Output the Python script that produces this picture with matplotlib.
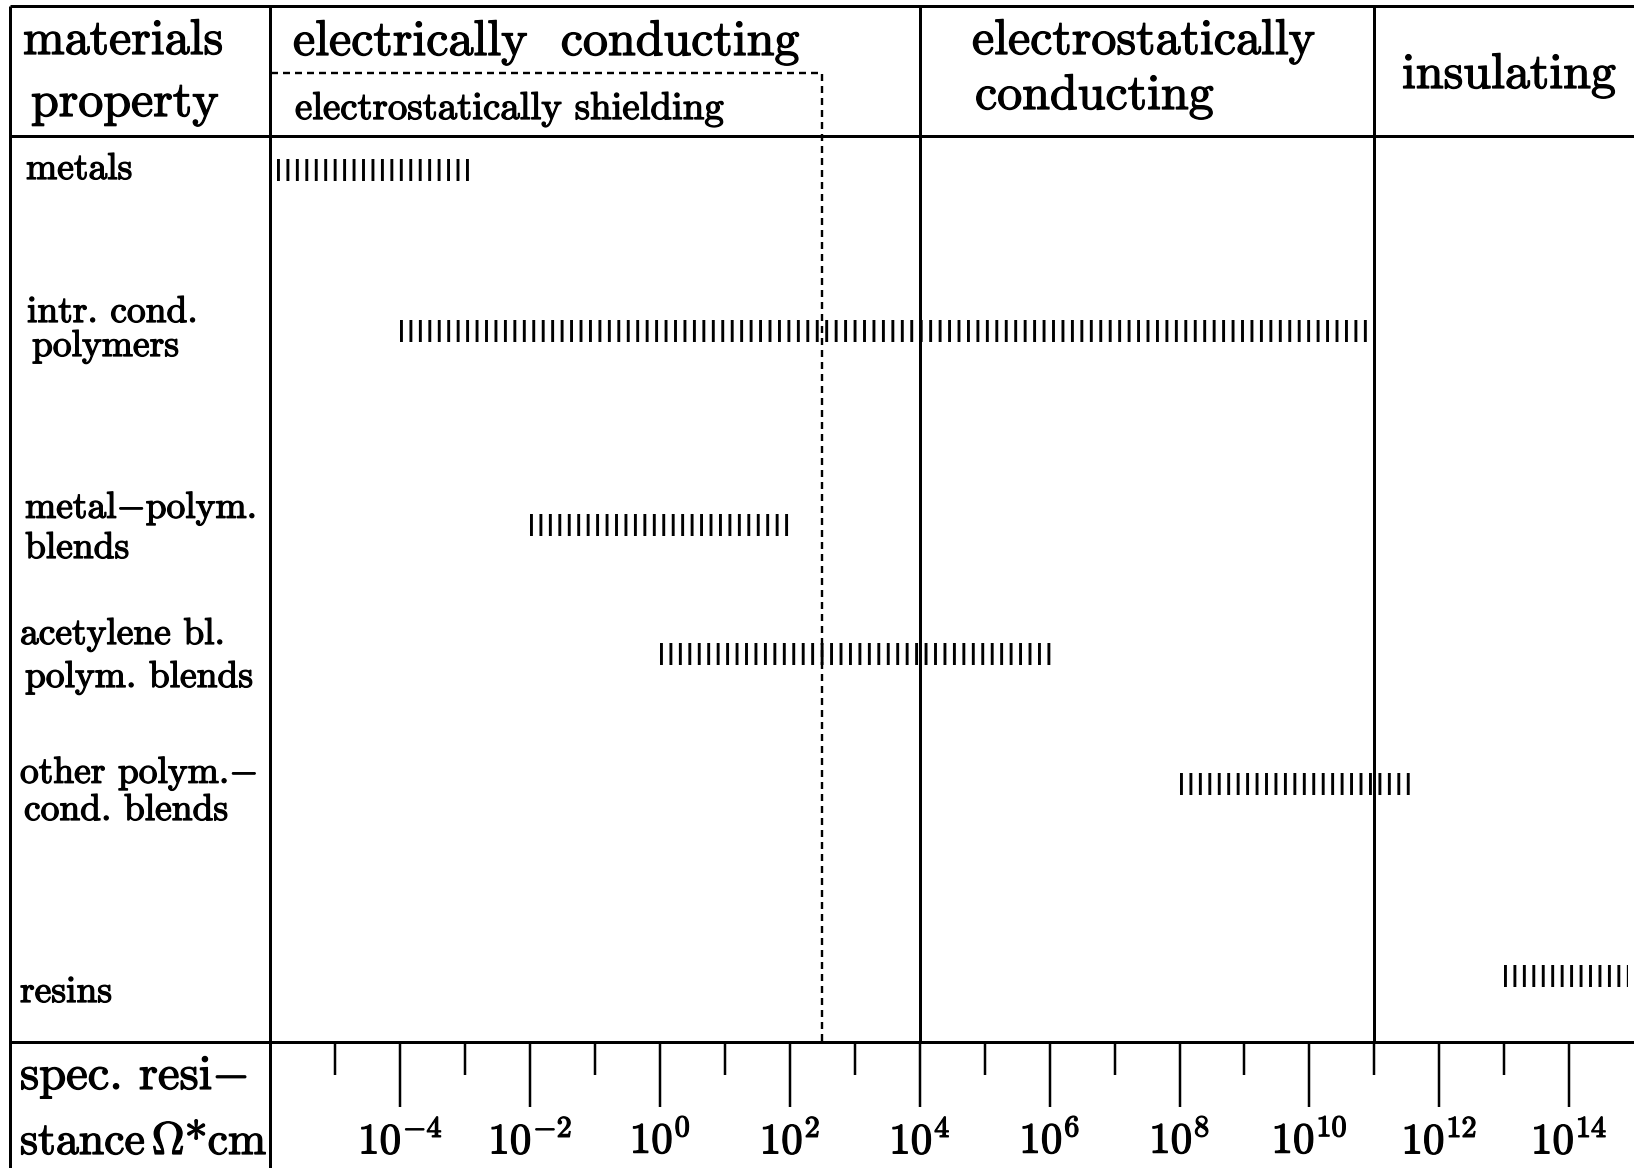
import matplotlib
matplotlib.use('Agg')
import matplotlib.pyplot as plt
import matplotlib.patheffects as pe

# materials (rows, top to bottom) and the range of log10(spec. resistance / Ohm*cm)
materials = ['metals', 'intr. cond. polymers', 'metal-polym. blends',
             'acetylene bl. polym. blends', 'other polym.-cond. blends', 'resins']
log_low = [-5.9, -4.0, -2.0, 0.0, 8.0, 13.0]
log_high = [-2.95, 10.9, 2.05, 6.05, 11.55, 14.9]

# class limits, log10(Ohm*cm)
shield_limit = 2.5      # end of "electrostatically shielding"
class_limits = [4, 11]  # conducting | electrostatically conducting | insulating
major_exp = list(range(-4, 15, 2))
minor_exp = list(range(-5, 14, 2))
x_range = (-6, 15)

# ---- layout (pixels, measured from top-left) ----
W, H = 1634, 1168
X0, XC = 10, 270.5
Y_TOP, Y_HEAD, Y_DASH, Y_AXIS = 6, 136, 72.7, 1042
row_y = [170, 331, 525, 654, 784, 976]
PT = 72 / 100.0  # points per pixel at dpi 100

# label lines: text, x, baseline y, size
header_lines = [
    ('materials', 23, 54, 36),
    ('property', 31, 116, 36),
    ('electrically  conducting', 293, 55, 36),
    ('electrostatically shielding', 295, 119, 28),
    ('electrostatically', 972, 54, 36),
    ('conducting', 975, 109, 36),
    ('insulating', 1402, 88, 36),
    ('spec. resi$-$', 20, 1089, 35),
    (r'stance$\,\Omega$*cm', 20, 1154, 33),
]
row_lines = [
    ('metals', 26, 179), ('intr. cond.', 27, 322), ('polymers', 32, 356),
    ('metal$-$polym.', 25, 518), ('blends', 25, 558),
    ('acetylene bl.', 20, 644), ('polym. blends', 25, 687),
    ('other polym.$-$', 20, 783), ('cond. blends', 24, 820),
    ('resins', 20, 1002),
]

plt.rcParams['mathtext.fontset'] = 'cm'
plt.rcParams['lines.scale_dashes'] = False
FONT = 'cmr10'
heavy = [pe.withStroke(linewidth=0.9, foreground='k')]

fig = plt.figure(figsize=(W / 100, H / 100), dpi=100)
fig.patch.set_facecolor('white')

# background axes in pixel coordinates for the table frame and labels
bg = fig.add_axes([0, 0, 1, 1])
bg.set_xlim(0, W)
bg.set_ylim(H, 0)
bg.axis('off')

lw_frame = 3 * PT
for yy in (Y_TOP, Y_HEAD, Y_AXIS):
    bg.plot([X0, W], [yy, yy], color='k', lw=lw_frame, solid_capstyle='butt')
for xx in (X0, XC):
    bg.plot([xx, xx], [Y_TOP, H], color='k', lw=lw_frame, solid_capstyle='butt')

for txt, x, y, fs in header_lines:
    bg.text(x, y, txt, fontsize=fs, family=FONT, ha='left', va='baseline',
            path_effects=heavy)
for txt, x, y in row_lines:
    bg.text(x, y, txt, fontsize=27, family=FONT, ha='left', va='baseline',
            path_effects=heavy)

# data axes: x = log10 of resistance, y = pixel row
ax = fig.add_axes([XC / W, (H - Y_AXIS) / H, (W - XC) / W, (Y_AXIS - Y_TOP) / H])
ax.set_xlim(*x_range)
ax.set_ylim(Y_AXIS, Y_TOP)
ax.patch.set_visible(False)
for s in ax.spines.values():
    s.set_visible(False)

for c in class_limits:
    ax.axvline(c, color='k', lw=lw_frame)

ax.plot([x_range[0], shield_limit, shield_limit], [Y_DASH, Y_DASH, Y_AXIS],
        color='k', lw=2.4 * PT, ls=(0, (7 * PT, 5 * PT)), dash_capstyle='butt')

# hatched ranges drawn as thick dashed lines (vertical marks)
for y, lo, hi in zip(row_y, log_low, log_high):
    ax.plot([lo, hi], [y, y], color='k', lw=22 * PT,
            ls=(0, (2.9 * PT, 6.55 * PT)), dash_capstyle='butt')

ax.set_yticks([])
ax.set_xticks(major_exp, labels=[r'$10^{%d}$' % e for e in major_exp])
ax.set_xticks(minor_exp, minor=True)
ax.tick_params(axis='x', which='major', direction='out', length=65 * PT,
               width=2.5 * PT, labelsize=31, pad=9)
ax.tick_params(axis='x', which='minor', direction='out', length=33 * PT,
               width=2.5 * PT)
for lab in ax.get_xticklabels():
    lab.set_path_effects(heavy)

fig.savefig('out.png', dpi=100, facecolor='white')
